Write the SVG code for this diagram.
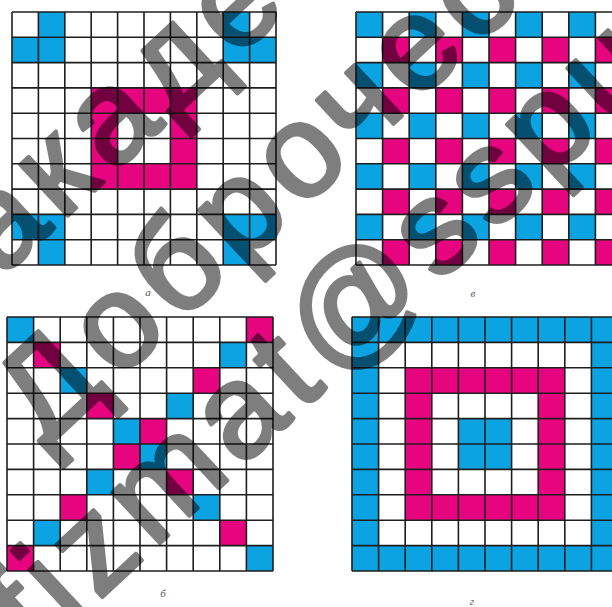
<svg xmlns="http://www.w3.org/2000/svg" width="612" height="607" viewBox="0 0 612 607">
<style>
.b{fill:#0ba3e2}
.p{fill:#e6057f}
.gl{fill:none;stroke:#1e1e1e;stroke-width:1.6;vector-effect:non-scaling-stroke}
.lbl{font-family:"Liberation Serif",serif;font-style:italic;font-size:11px;fill:#555;text-anchor:middle}
.wm{font-family:"Liberation Sans",Arial,sans-serif;font-size:132px;letter-spacing:9px;fill:#000;stroke:#000;stroke-width:4;stroke-linejoin:round}
</style>
<defs>
<path id="grid" class="gl" d="M0 0V10M1 0V10M2 0V10M3 0V10M4 0V10M5 0V10M6 0V10M7 0V10M8 0V10M9 0V10M10 0V10M0 0H10M0 1H10M0 2H10M0 3H10M0 4H10M0 5H10M0 6H10M0 7H10M0 8H10M0 9H10M0 10H10"/>
</defs>
<rect width="612" height="607" fill="#fff"/>

<g id="grid-a">
<g transform="translate(12,12) scale(26.4,25.3)">
<rect class="b" x="1" y="0" width="1" height="1"/><rect class="b" x="8" y="0" width="1" height="1"/>
<rect class="b" x="0" y="1" width="2" height="1"/><rect class="b" x="8" y="1" width="2" height="1"/>
<rect class="b" x="0" y="8" width="2" height="1"/><rect class="b" x="8" y="8" width="2" height="1"/>
<rect class="b" x="1" y="9" width="1" height="1"/><rect class="b" x="8" y="9" width="1" height="1"/>
<rect class="p" x="3" y="3" width="4" height="1"/><rect class="p" x="3" y="6" width="4" height="1"/>
<rect class="p" x="3" y="4" width="1" height="2"/><rect class="p" x="6" y="4" width="1" height="2"/>
<use href="#grid"/>
</g>
<text class="lbl" x="148" y="296">а</text>
</g>

<g id="grid-v">
<g transform="translate(356,12) scale(26.6,25.3)">
<g class="b">
<rect x="0" y="0" width="1" height="1"/><rect x="2" y="0" width="1" height="1"/><rect x="4" y="0" width="1" height="1"/><rect x="6" y="0" width="1" height="1"/><rect x="8" y="0" width="1" height="1"/>
<rect x="0" y="2" width="1" height="1"/><rect x="2" y="2" width="1" height="1"/><rect x="4" y="2" width="1" height="1"/><rect x="6" y="2" width="1" height="1"/><rect x="8" y="2" width="1" height="1"/>
<rect x="0" y="4" width="1" height="1"/><rect x="2" y="4" width="1" height="1"/><rect x="4" y="4" width="1" height="1"/><rect x="6" y="4" width="1" height="1"/><rect x="8" y="4" width="1" height="1"/>
<rect x="0" y="6" width="1" height="1"/><rect x="2" y="6" width="1" height="1"/><rect x="4" y="6" width="1" height="1"/><rect x="6" y="6" width="1" height="1"/><rect x="8" y="6" width="1" height="1"/>
<rect x="0" y="8" width="1" height="1"/><rect x="2" y="8" width="1" height="1"/><rect x="4" y="8" width="1" height="1"/><rect x="6" y="8" width="1" height="1"/><rect x="8" y="8" width="1" height="1"/>
</g>
<g class="p">
<rect x="1" y="1" width="1" height="1"/><rect x="3" y="1" width="1" height="1"/><rect x="5" y="1" width="1" height="1"/><rect x="7" y="1" width="1" height="1"/><rect x="9" y="1" width="1" height="1"/>
<rect x="1" y="3" width="1" height="1"/><rect x="3" y="3" width="1" height="1"/><rect x="5" y="3" width="1" height="1"/><rect x="7" y="3" width="1" height="1"/><rect x="9" y="3" width="1" height="1"/>
<rect x="1" y="5" width="1" height="1"/><rect x="3" y="5" width="1" height="1"/><rect x="5" y="5" width="1" height="1"/><rect x="7" y="5" width="1" height="1"/><rect x="9" y="5" width="1" height="1"/>
<rect x="1" y="7" width="1" height="1"/><rect x="3" y="7" width="1" height="1"/><rect x="5" y="7" width="1" height="1"/><rect x="7" y="7" width="1" height="1"/><rect x="9" y="7" width="1" height="1"/>
<rect x="1" y="9" width="1" height="1"/><rect x="3" y="9" width="1" height="1"/><rect x="5" y="9" width="1" height="1"/><rect x="7" y="9" width="1" height="1"/><rect x="9" y="9" width="1" height="1"/>
</g>
<use href="#grid"/>
</g>
<text class="lbl" x="473" y="297">в</text>
</g>

<g id="grid-b">
<g transform="translate(7,317) scale(26.6,25.4)">
<g class="b">
<rect x="0" y="0" width="1" height="1"/><rect x="8" y="1" width="1" height="1"/><rect x="2" y="2" width="1" height="1"/><rect x="6" y="3" width="1" height="1"/><rect x="4" y="4" width="1" height="1"/>
<rect x="5" y="5" width="1" height="1"/><rect x="3" y="6" width="1" height="1"/><rect x="7" y="7" width="1" height="1"/><rect x="1" y="8" width="1" height="1"/><rect x="9" y="9" width="1" height="1"/>
</g>
<g class="p">
<rect x="9" y="0" width="1" height="1"/><rect x="1" y="1" width="1" height="1"/><rect x="7" y="2" width="1" height="1"/><rect x="3" y="3" width="1" height="1"/><rect x="5" y="4" width="1" height="1"/>
<rect x="4" y="5" width="1" height="1"/><rect x="6" y="6" width="1" height="1"/><rect x="2" y="7" width="1" height="1"/><rect x="8" y="8" width="1" height="1"/><rect x="0" y="9" width="1" height="1"/>
</g>
<use href="#grid"/>
</g>
<text class="lbl" x="163" y="597">б</text>
</g>

<g id="grid-g">
<g transform="translate(352,317) scale(26.6,25.4)">
<g class="b">
<rect x="0" y="0" width="10" height="1"/><rect x="0" y="9" width="10" height="1"/>
<rect x="0" y="1" width="1" height="8"/><rect x="9" y="1" width="1" height="8"/>
<rect x="4" y="4" width="2" height="2"/>
</g>
<g class="p">
<rect x="2" y="2" width="6" height="1"/><rect x="2" y="7" width="6" height="1"/>
<rect x="2" y="3" width="1" height="4"/><rect x="7" y="3" width="1" height="4"/>
</g>
<use href="#grid"/>
</g>
<text class="lbl" x="472" y="605">г</text>
</g>

<g id="watermark" class="wm" opacity="0.5">
<text transform="translate(1,278) rotate(-43)">акаде</text>
<text transform="translate(45,449) rotate(-43)">Доброчес</text>
<text transform="translate(37,658) rotate(-43)">fizmat@sspu</text>
</g>
</svg>
